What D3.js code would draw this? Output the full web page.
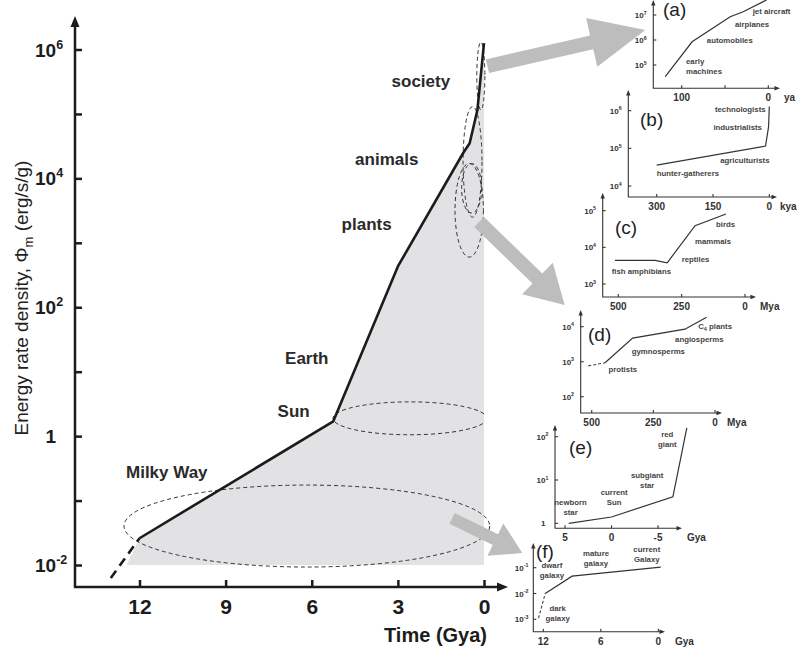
<!DOCTYPE html>
<html>
<head>
<meta charset="utf-8">
<script src="https://cdn.jsdelivr.net/npm/d3@7"></script>
<style>
  body { margin: 0; background: #fff; }
  svg { display: block; font-family: "Liberation Sans", Arial, sans-serif; }
</style>
</head>
<body>
<div id="vizcontainer"></div>
<script>
const width = 798,
  height = 652;

// ---- main panel: time before present (Gya) vs energy rate density (erg/s/g)
const mainTime = [13.0, 12.0, 5.25, 3.0, 0.72, 0.5, 0.23, 0.0];
const mainPhi = [0.0063, 0.026, 1.7, 430, 2.5e4, 3.5e4, 1.15e5, 1.26e6];
const fillEdge = [12.45, 0.01];
const xTicks = [12, 9, 6, 3, 0];
const yTickExp = [-2, -1, 0, 1, 2, 3, 4, 5, 6];
const yLabelExp = [-2, 0, 2, 4, 6];

const eraNames = ['society', 'animals', 'plants', 'Earth', 'Sun', 'Milky Way'];
const eraTime = [3.22, 4.49, 4.96, 6.93, 7.19, 12.47];
const eraPhi = [2.6e5, 1.6e4, 1.6e3, 13, 2.0, 0.22];

// dashed loops: [time left, time right], [phi top, phi bottom]
const loopTime = [[0.25, -0.03], [0.73, 0.07], [0.78, 0.08], [1.01, 0.02], [5.26, -0.1], [12.54, -0.2]];
const loopPhi = [[1.3e6, 1.15e5], [1.3e5, 2.5e3], [1.7e4, 2.9e3], [1.7e4, 600], [3.4, 1.05], [0.174, 0.0093]];

// ---- insets
const aYa = [119, 88, 44, 29, 2];
const aPhi = [3.4e4, 8.5e5, 8.5e6, 1.35e7, 4e7];
const aNotes = [['jet aircraft'], ['airplanes'], ['automobiles'], ['early', 'machines']];
const aNoteX = [18, 38.5, 71, 95];
const aNoteY = [1.1e7, 3.3e6, 7.6e5, 1.1e5];

const bKya = [300, 10, 2, 0];
const bPhi = [3.6e4, 1.15e5, 3.7e5, 1.3e6];
const bNotes = [['technologists'], ['industrialists'], ['agriculturists'], ['hunter-gatherers']];
const bNoteX = [145, 149, 131, 300];
const bNoteY = [9.3e5, 3.1e5, 4.1e4, 1.8e4];

const cMya = [513, 355, 307, 197, 75];
const cPhi = [4.4e3, 4.4e3, 3.8e3, 3.9e4, 8.1e4];
const cNotes = [['birds'], ['mammals'], ['reptiles'], ['fish  amphibians']];
const cNoteX = [114.5, 197, 250, 526];
const cNoteY = [3.5e4, 1.2e4, 3.9e3, 1.9e3];

const dMyaDash = [514, 446];
const dPhiDash = [760, 930];
const dMya = [446, 334, 122, 34];
const dPhi = [930, 4.7e3, 8.5e3, 1.86e4];
const dNotes = [['C4 plants'], ['angiosperms'], ['gymnosperms'], ['protists']];
const dNoteX = [68, 162, 338, 432];
const dNoteY = [8.4e3, 3.7e3, 1.7e3, 520];

const eGya = [4.6, 0, -6.6, -8.1];
const ePhi = [1, 1.4, 4.1, 160];
const eNotes = [['red', 'giant'], ['subgiant', 'star'], ['current', 'Sun'], ['newborn', 'star']];
const eNoteX = [-6.0, -3.84, -0.29, 4.4];
const eNoteY = [100, 11, 4.5, 2.6];

const fGyaDash = [12.5, 11.8];
const fPhiDash = [1.1e-3, 1.0e-2];
const fGya = [11.8, 9.0, -0.25];
const fPhi = [1.0e-2, 4.7e-2, 0.105];
const fNotes = [['current', 'Galaxy'], ['mature', 'galaxy'], ['dwarf', 'galaxy'], ['dark', 'galaxy']];
const fNoteX = [1.2, 6.5, 11.1, 10.5];
const fNoteY = [0.42, 0.28, 0.095, 2.1e-3];

const ink = '#1c1c1c';
const grey = '#bdbdbd';

const viz = d3.select('#vizcontainer')
  .append('svg')
  .attr('width', width)
  .attr('height', height);

const x = d3.scaleLinear().domain([12, 0]).range([139.5, 484]);
const y = d3.scaleLog().domain([0.01, 1e6]).range([565, 49.5]);
const axX = 75, axY = 587;

const pts = mainTime.map((t, i) => [t, mainPhi[i]]);
const line = d3.line().x(d => x(d[0])).y(d => y(d[1]));

// shaded region under the curve
viz.append('path')
  .attr('d', line([fillEdge, ...pts.slice(1), [0, 0.01]]) + 'Z')
  .attr('fill', '#e2e2e4');

// the Sun loop disappears past the right edge of the shading
viz.append('clipPath').attr('id', 'sunclip')
  .append('rect').attr('x', 0).attr('y', 0).attr('width', x(0) + 1).attr('height', height);

// dashed loops
viz.append('g')
  .selectAll('ellipse')
  .data(loopTime.map((t, i) => ({ t: t, p: loopPhi[i], i: i })))
  .join('ellipse')
  .attr('cx', d => (x(d.t[0]) + x(d.t[1])) / 2)
  .attr('cy', d => (y(d.p[0]) + y(d.p[1])) / 2)
  .attr('rx', d => Math.abs(x(d.t[1]) - x(d.t[0])) / 2)
  .attr('ry', d => Math.abs(y(d.p[1]) - y(d.p[0])) / 2)
  .attr('clip-path', d => d.i === 4 ? 'url(#sunclip)' : null)
  .attr('fill', 'none')
  .attr('stroke', '#333')
  .attr('stroke-width', 1)
  .attr('stroke-dasharray', '4,3');

// grey block arrows
function blockArrow(s, t, w, hl, hw) {
  const dx = t[0] - s[0], dy = t[1] - s[1], L = Math.hypot(dx, dy);
  const ux = dx / L, uy = dy / L, nx = -uy, ny = ux;
  const bx = t[0] - ux * hl, by = t[1] - uy * hl;
  const p = [
    [s[0] + nx * w / 2, s[1] + ny * w / 2],
    [bx + nx * w / 2, by + ny * w / 2],
    [bx + nx * hw / 2, by + ny * hw / 2],
    t,
    [bx - nx * hw / 2, by - ny * hw / 2],
    [bx - nx * w / 2, by - ny * w / 2],
    [s[0] - nx * w / 2, s[1] - ny * w / 2]
  ];
  viz.append('path').attr('d', 'M' + p.join('L') + 'Z').attr('fill', grey);
}

// main curve
viz.append('path')
  .attr('d', line(pts.slice(0, 2)))
  .attr('fill', 'none').attr('stroke', ink)
  .attr('stroke-width', 2.6).attr('stroke-dasharray', '9,6');
viz.append('path')
  .attr('d', line(pts.slice(1)))
  .attr('fill', 'none').attr('stroke', ink)
  .attr('stroke-width', 2.6).attr('stroke-linejoin', 'round');

// axes
const yAxis = viz.append('g')
  .attr('transform', `translate(${axX},0)`)
  .call(d3.axisLeft(y).tickValues(yTickExp.map(e => Math.pow(10, e))).tickSize(-7).tickFormat(''));
const xAxis = viz.append('g')
  .attr('transform', `translate(0,${axY})`)
  .call(d3.axisBottom(x).tickValues(xTicks).tickSize(-7).tickPadding(12).tickFormat(d3.format('d')));
[yAxis, xAxis].forEach(g => {
  g.select('.domain').remove();
  g.selectAll('line').attr('stroke', ink).attr('stroke-width', 2.5);
});
xAxis.selectAll('text')
  .attr('fill', ink).attr('font-size', 21).attr('font-weight', 'bold');

viz.append('path')
  .attr('d', `M${axX},${axY}V24M${axX - 1.2},${axY}H500`)
  .attr('stroke', ink).attr('stroke-width', 2.5).attr('fill', 'none');
viz.append('path')
  .attr('d', `M${axX},16L${axX - 4.5},27L${axX + 4.5},27ZM508,${axY}L497,${axY - 4.5}L497,${axY + 4.5}Z`)
  .attr('fill', ink);

function powLabel(g, xpos, ypos, exp, size, anchorBase) {
  // "10" ends at anchorBase, exponent follows
  if (exp === 0) {
    g.append('text').attr('x', anchorBase).attr('y', ypos)
      .attr('text-anchor', 'end').text('1');
    return;
  }
  const t = g.append('text').attr('x', xpos).attr('y', ypos);
  t.append('tspan').text('10');
  t.append('tspan').attr('font-size', size * 0.66).attr('dy', -size * 0.42).text(exp);
}

const yLab = viz.append('g').attr('fill', ink).attr('font-size', 19).attr('font-weight', 'bold');
yLabelExp.forEach(e => powLabel(yLab, 35, y(Math.pow(10, e)) + 7, e, 19, 56));

viz.append('text')
  .attr('x', 487).attr('y', 642)
  .attr('text-anchor', 'end')
  .attr('fill', ink).attr('font-size', 20).attr('font-weight', 'bold')
  .text('Time (Gya)');

const yTitle = viz.append('text')
  .attr('transform', 'translate(28,298) rotate(-90)')
  .attr('text-anchor', 'middle')
  .attr('fill', '#222').attr('font-size', 19);
yTitle.append('tspan').text('Energy rate density, \u03A6');
yTitle.append('tspan').attr('font-size', 13).attr('dy', 5).text('m');
yTitle.append('tspan').attr('dy', -5).text(' (erg/s/g)');

viz.append('g')
  .selectAll('text')
  .data(eraNames)
  .join('text')
  .attr('x', (d, i) => x(eraTime[i]))
  .attr('y', (d, i) => y(eraPhi[i]))
  .attr('fill', '#2a2a2a').attr('font-size', 17).attr('font-weight', 'bold')
  .text(d => d);

// ---- insets
const insets = [
  { id: '(a)', lx: 663, ly: 16, xDom: [100, 0], xRng: [681.7, 768.3], yDom: [1e5, 1e7], yRng: [65, 15],
    ox: 653.3, oy: 88.3, top: 0, right: 780, unit: 'ya', ux: 784,
    xt: [100, 50, 0], xl: ['100', '', '0'], ye: [5, 6, 7],
    solid: [aYa, aPhi], notes: [aNotes, aNoteX, aNoteY], center: false },
  { id: '(b)', lx: 640, ly: 126, xDom: [300, 0], xRng: [656.7, 769.3], yDom: [1e4, 1e6], yRng: [186, 110.7],
    ox: 628.3, oy: 197, top: 90, right: 777, unit: 'kya', ux: 780,
    xt: [300, 150, 0], xl: ['300', '150', '0'], ye: [4, 5, 6],
    solid: [bKya, bPhi], notes: [bNotes, bNoteX, bNoteY], center: false },
  { id: '(c)', lx: 615, ly: 234, xDom: [500, 0], xRng: [618.3, 745], yDom: [1e3, 1e5], yRng: [284, 210.7],
    ox: 602.7, oy: 297, top: 193, right: 756, unit: 'Mya', ux: 760,
    xt: [500, 250, 0], xl: ['500', '250', '0'], ye: [3, 4, 5],
    solid: [cMya, cPhi], notes: [cNotes, cNoteX, cNoteY], center: false },
  { id: '(d)', lx: 588, ly: 341, xDom: [500, 0], xRng: [591.7, 715], yDom: [1e2, 1e4], yRng: [396.7, 326.7],
    ox: 580.7, oy: 413, top: 310, right: 722, unit: 'Mya', ux: 727,
    xt: [500, 250, 0], xl: ['500', '250', '0'], ye: [2, 3, 4],
    dash: [dMyaDash, dPhiDash], solid: [dMya, dPhi], notes: [dNotes, dNoteX, dNoteY], center: false },
  { id: '(e)', lx: 569, ly: 454, xDom: [5, -5], xRng: [565, 658], yDom: [1, 100], yRng: [523.3, 436.7],
    ox: 555, oy: 528.3, top: 425, right: 682, unit: 'Gya', ux: 687,
    xt: [5, 0, -5], xl: ['5', '0', '-5'], ye: [0, 1, 2],
    solid: [eGya, ePhi], notes: [eNotes, eNoteX, eNoteY], center: true },
  { id: '(f)', lx: 536, ly: 558, xDom: [12, 0], xRng: [543.3, 658.3], yDom: [1e-3, 1e-1], yRng: [619.3, 567.7],
    ox: 533.3, oy: 631.7, top: 543, right: 665, unit: 'Gya', ux: 675,
    xt: [12, 6, 0], xl: ['12', '6', '0'], ye: [-3, -2, -1],
    dash: [fGyaDash, fPhiDash], solid: [fGya, fPhi], notes: [fNotes, fNoteX, fNoteY], center: true }
];

// arrows from the main curve to the insets
blockArrow([x(-0.12), y(5.5e5)], [insets[0].ox - 8, 30], 14, 55, 50);
blockArrow([x(0.17), y(2.1e3)], [insets[3].ox - 16, insets[3].top - 5], 14, 38, 44);
blockArrow([x(1.11), y(0.053)], [insets[5].ox - 11, insets[5].top + 10], 12, 30, 36);

insets.forEach(c => {
  const g = viz.append('g');
  const sx = d3.scaleLinear().domain(c.xDom).range(c.xRng);
  const sy = d3.scaleLog().domain(c.yDom).range(c.yRng);
  const ln = d3.line().x(d => sx(d[0])).y(d => sy(d[1]));
  const zip = (a, b) => a.map((v, i) => [v, b[i]]);

  g.append('path')
    .attr('d', `M${c.ox},${c.oy}V${c.top + 3}M${c.ox - 0.5},${c.oy}H${c.right - 3}`)
    .attr('stroke', '#333').attr('stroke-width', 1.1).attr('fill', 'none');
  g.append('path')
    .attr('d', `M${c.ox},${c.top}L${c.ox - 2.2},${c.top + 5.5}L${c.ox + 2.2},${c.top + 5.5}Z` +
      `M${c.right},${c.oy}L${c.right - 5.5},${c.oy - 2.2}L${c.right - 5.5},${c.oy + 2.2}Z`)
    .attr('fill', '#333');

  g.append('g').selectAll('line')
    .data(c.xt).join('line')
    .attr('x1', d => sx(d)).attr('x2', d => sx(d))
    .attr('y1', c.oy).attr('y2', c.oy - 3)
    .attr('stroke', '#333').attr('stroke-width', 1.1);
  g.append('g').selectAll('line')
    .data(c.ye).join('line')
    .attr('x1', c.ox).attr('x2', c.ox + 3)
    .attr('y1', d => sy(Math.pow(10, d))).attr('y2', d => sy(Math.pow(10, d)))
    .attr('stroke', '#333').attr('stroke-width', 1.1);

  const tl = g.append('g').attr('fill', '#333').attr('font-weight', 'bold');
  tl.selectAll('text.xl')
    .data(c.xt).join('text')
    .attr('x', d => sx(d)).attr('y', c.oy + 13)
    .attr('text-anchor', 'middle').attr('font-size', 10)
    .text((d, i) => c.xl[i]);
  tl.append('text').attr('x', c.ux).attr('y', c.oy + 13)
    .attr('font-size', 10).text(c.unit);
  const yl = tl.append('g').attr('font-size', 8);
  c.ye.forEach(e => powLabel(yl, c.ox - 18.5, sy(Math.pow(10, e)) + 3, e, 8, c.ox - 9.5));

  g.append('text').attr('x', c.lx).attr('y', c.ly)
    .attr('fill', '#222').attr('font-size', 19).text(c.id);

  if (c.dash) {
    g.append('path').attr('d', ln(zip(c.dash[0], c.dash[1])))
      .attr('fill', 'none').attr('stroke', '#444').attr('stroke-width', 1.1)
      .attr('stroke-dasharray', '3,2');
  }
  g.append('path').attr('d', ln(zip(c.solid[0], c.solid[1])))
    .attr('fill', 'none').attr('stroke', '#333').attr('stroke-width', 1.2);

  const [names, nx, ny] = c.notes;
  names.forEach((lines, i) => {
    const t = g.append('text')
      .attr('x', sx(nx[i])).attr('y', sy(ny[i]))
      .attr('text-anchor', c.center ? 'middle' : 'start')
      .attr('fill', '#444').attr('font-size', 7.8).attr('font-weight', 'bold');
    lines.forEach((s, k) => {
      if (s === 'C4 plants') {
        t.append('tspan').text('C');
        t.append('tspan').attr('font-size', 5.5).attr('dy', 1.5).text('4');
        t.append('tspan').attr('dy', -1.5).text(' plants');
      } else {
        t.append('tspan').attr('x', sx(nx[i])).attr('dy', k === 0 ? 0 : 10).text(s);
      }
    });
  });
});
</script>
</body>
</html>
